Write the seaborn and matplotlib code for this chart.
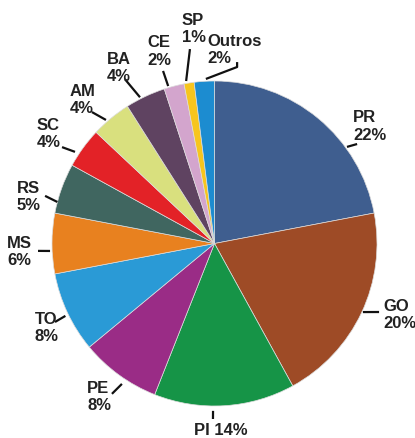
import numpy as np
import matplotlib
matplotlib.use("Agg")
import matplotlib.pyplot as plt
import seaborn as sns

# Data
states = ["PR", "GO", "PI", "PE", "TO", "MS", "RS", "SC", "AM", "BA", "CE", "SP", "Outros"]
shares = [22, 20, 14, 8, 8, 6, 5, 4, 4, 4, 2, 1, 2]
colors = ["#3F5E8F", "#9E4B26", "#169447", "#9A2C86", "#2A9AD6", "#E8811F", "#406660",
          "#E32227", "#D9E07E", "#5F4361", "#D3A5CD", "#F7C51E", "#1C8CD0"]

# label placement (angle clockwise from top, radius factor, alignment)
label_pos = [(49.6, 1.12, "left"), (112.7, 1.124, "left"), (178.0, 1.148, "center"),
             (219.9, 1.223, "left"), (245.1, 1.218, "left"), (267.9, 1.278, "left"),
             (283.5, 1.25, "left"), (301.9, 1.287, "left"), (315.0, 1.258, "left"),
             (328.7, 1.272, "left"), (340.7, 1.258, "left"), (351.4, 1.341, "left"),
             (357.8, 1.198, "left")]
# leader lines as (angle, radius factor) points
leaders = [[(53.9, 1.009), (55.1, 1.07)],
           [(114.8, 1.006), (112.6, 1.097)],
           [(180.5, 1.03), (180.5, 1.08)],
           [(213.4, 1.035), (214.3, 1.12)],
           [(244.1, 1.02), (243.8, 1.094)],
           [(267.4, 1.013), (267.6, 1.087)],
           [(284.8, 1.0), (285.7, 1.083)],
           [(303.3, 1.027), (302.3, 1.11)],
           [(318.7, 1.012), (317.0, 1.106)],
           [(333.0, 1.01), (331.4, 1.152)],
           [(343.6, 1.01), (343.4, 1.108)],
           [(350.1, 1.015), (352.8, 1.206)],
           [(357.0, 1.014), (7.3, 1.095), (7.1, 1.125)]]

sns.set_theme(style="white")
plt.rcParams["font.family"] = ["Liberation Sans", "DejaVu Sans"]

W, H = 415, 439
cx, cy, R = 214.5, H - 244.5, 162.5

fig = plt.figure(figsize=(W / 100, H / 100), dpi=100)
ax = fig.add_axes([0, 0, 1, 1])
ax.pie(shares, colors=colors, startangle=90, counterclock=False,
       center=(cx, cy), radius=R,
       wedgeprops=dict(edgecolor="#dddddd", linewidth=0.5))
ax.set_xlim(0, W)
ax.set_ylim(0, H)
ax.set_aspect("equal")
ax.axis("off")


def polar(ang, rf):
    a = np.deg2rad(ang)
    return cx + rf * R * np.sin(a), cy + rf * R * np.cos(a)


for name, val, (ang, rf, ha), path in zip(states, shares, label_pos, leaders):
    txt = f"{name} {val}%" if name == "PI" else f"{name}\n{val}%"
    x, y = polar(ang, rf)
    ax.text(x, y, txt, ha=ha, va="center", fontsize=12, fontweight="bold",
            color="#222222", linespacing=1.2)
    pts = np.array([polar(a, r) for a, r in path])
    ax.plot(pts[:, 0], pts[:, 1], color="#111111", lw=1.6, solid_capstyle="butt")

fig.savefig("out.png", dpi=100, facecolor="white")
